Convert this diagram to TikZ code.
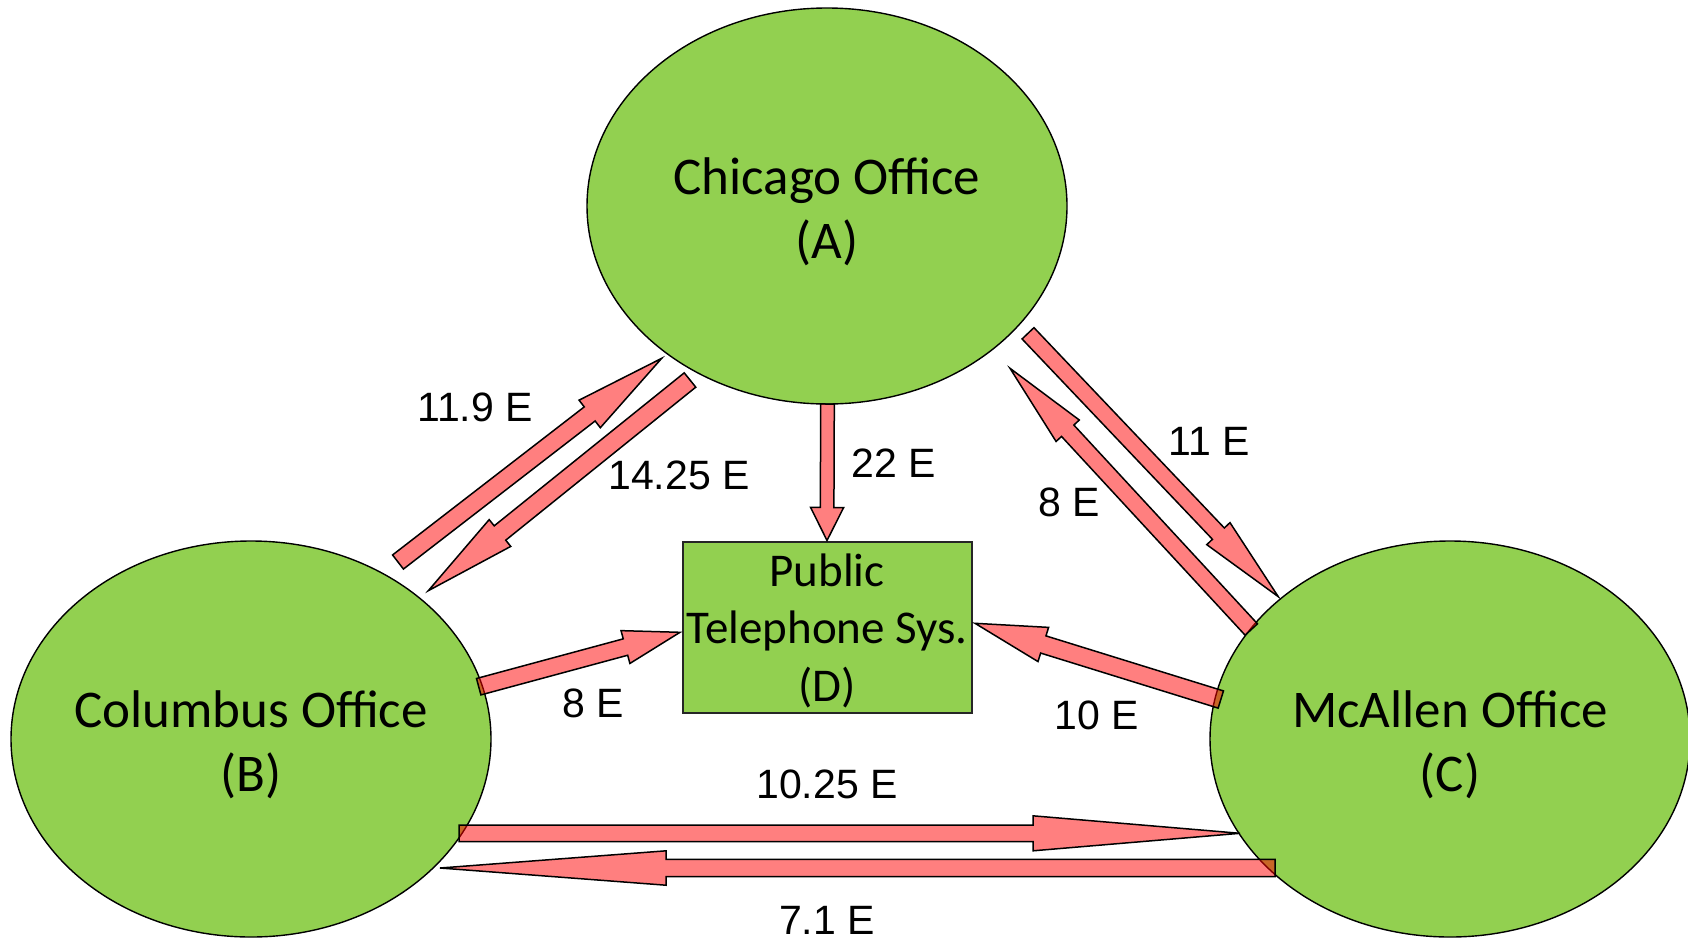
\documentclass[tikz,border=0pt]{standalone}
\usepackage{fontspec}
\setmainfont{Liberation Sans}
\newfontfamily\calibri{Carlito}
\usetikzlibrary{shapes.geometric,calc}
\definecolor{offgreen}{HTML}{92D050}
\newcommand\blockarrow[5]{% tail, tip, shaft half width, head half width, head length
  \path ($(#2)!#5pt!(#1)$) coordinate (bh);
  \draw[barrow] ($(#1)!#3pt!90:(#2)$) -- ($(bh)!#3pt!90:(#2)$) -- ($(bh)!#4pt!90:(#2)$) -- (#2)
     -- ($(bh)!#4pt!-90:(#2)$) -- ($(bh)!#3pt!-90:(#2)$) -- ($(#1)!#3pt!-90:(#2)$) -- cycle;
}
\newcommand\zl[1]{\makebox[0pt]{#1}}
\tikzset{
  office/.style={ellipse, draw=black, line width=1.4pt, fill=offgreen, minimum width=480pt, minimum height=396pt, inner sep=0pt, align=center, text height=111.4pt, font=\calibri\fontsize{53}{63.5}\selectfont},
  pts/.style={rectangle, draw=black!85, line width=2pt, fill=offgreen, minimum width=289pt, minimum height=171pt, inner sep=0pt, align=center, text height=155.5pt, font=\calibri\fontsize{47}{57.6}\selectfont},
  barrow/.style={draw=black, line width=1.5pt, line join=miter, fill=red, fill opacity=0.5},
  lbl/.style={font=\fontsize{41}{48}\selectfont, inner sep=0pt}
}
\begin{document}
\begin{tikzpicture}[x=1pt,y=-1pt]
\useasboundingbox (0,0) rectangle (1688,940);
\fill[white] (0,0) rectangle (1688,940);

\node[office] (A) at (827,206) {\zl{Chicago Office}\\\zl{(A)}};
\node[office] (B) at (251,739) {\zl{Columbus Office}\\\zl{(B)}};
\node[office] (C) at (1450,739) {\zl{McAllen Office}\\\zl{(C)}};
\node[pts] (D) at (827,627) {Public\\Telephone Sys.\\(D)};

% arrow ends
\coordinate (ba1) at (398,562);      \coordinate (ab1) at (661.7,358.3);
\coordinate (ab2) at (690,380);      \coordinate (ba2) at (428.3,590.7);
\coordinate (ad1) at (827.5,404);
\coordinate (ac1) at (1028,333.3);   \coordinate (ca1) at (1278.3,596.7);
\coordinate (ca2) at (1251.3,629.5); \coordinate (ac2) at (1010,368.3);
\coordinate (bd1) at (478.7,686.7);  \coordinate (db1) at (680,632.3);
\coordinate (cd1) at (1220.8,699.5); \coordinate (dc1) at (975,623.3);
\coordinate (bc1) at (459,833.3);    \coordinate (cb1) at (1240,833.3);
\coordinate (cb2) at (1275,868);     \coordinate (bc2) at (440,868);

\blockarrow{ba1}{ab1}{8.9}{17.4}{91}
\blockarrow{ab2}{ba2}{9.2}{17.2}{92}
\blockarrow{ad1}{D.north}{6.8}{16.5}{33}
\blockarrow{ac1}{ca1}{8.2}{16}{87}
\blockarrow{ca2}{ac2}{8.4}{15.8}{85}
\blockarrow{bd1}{db1}{8.5}{17}{56.5}
\blockarrow{cd1}{dc1}{9}{17.9}{71.5}
\blockarrow{bc1}{cb1}{8.3}{17.5}{207}
\blockarrow{cb2}{bc2}{8.7}{17.2}{226}

\node[lbl] (l1) at (475,407) {11.9 E};
\node[lbl] (l2) at (679,475) {14.25 E};
\node[lbl] (l3) at (893.5,463) {22 E};
\node[lbl] (l4) at (1209,441) {11 E};
\node[lbl] (l5) at (1069,502) {8 E};
\node[lbl] (l6) at (593,703) {8 E};
\node[lbl] (l7) at (1097,715) {10 E};
\node[lbl] (l8) at (827,784) {10.25 E};
\node[lbl] (l9) at (827,920) {7.1 E};
\end{tikzpicture}
\end{document}
